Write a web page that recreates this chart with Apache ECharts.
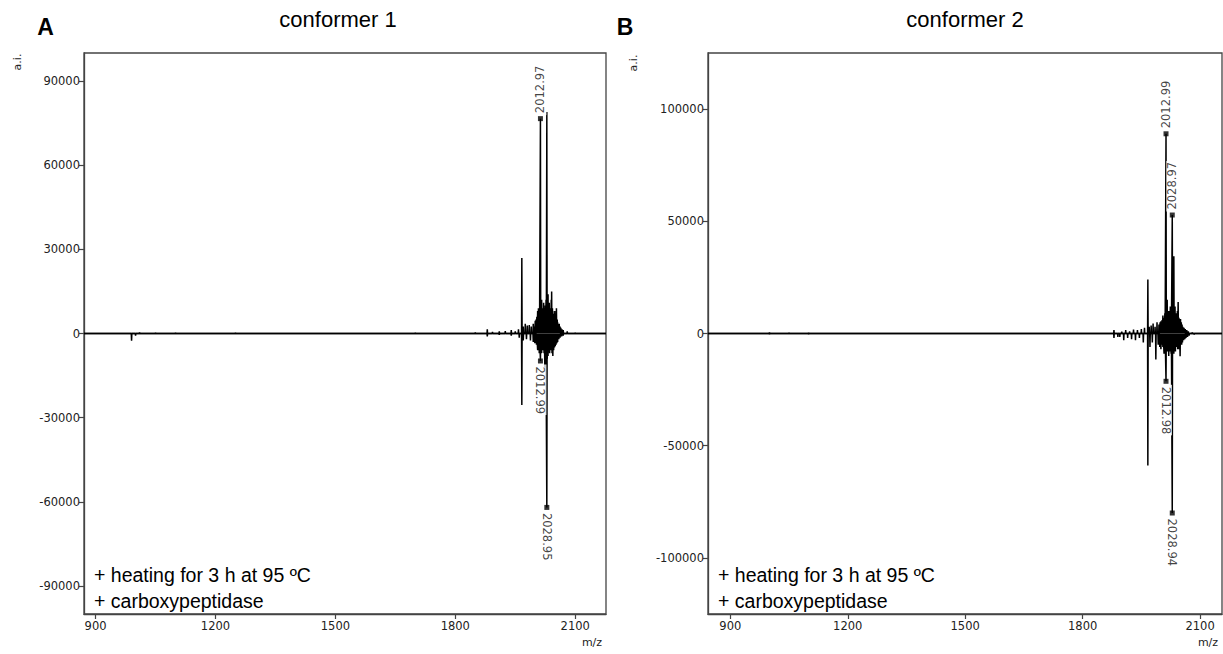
<!DOCTYPE html>
<html>
<head>
<meta charset="utf-8">
<script src="https://cdn.jsdelivr.net/npm/echarts@6/dist/echarts.min.js"></script>
<style>
html,body{margin:0;padding:0;background:#fff;}
#chart{width:1223px;height:654px;}
</style>
</head>
<body>
<div id="chart"></div>
<script>
// ---- data (m/z, intensity a.i.) ----
const xTicks = [900, 1200, 1500, 1800, 2100];
const yTicksA = [-90000, -60000, -30000, 0, 30000, 60000, 90000];
const yTicksB = [-100000, -50000, 0, 50000, 100000];

// conformer 1, upper spectrum (peaks)
const peaksA_up = [
  [990, -2600], [1000, -800], [1010, 400], [1050, 300], [1100, 300], [1250, 300], [1500, 200], [1700, 300],
  [1850, 400], [1880, 1500], [1893, 600], [1910, 800], [1925, 900], [1940, 1200], [1950, 800],
  [1958, 1500], [1966.4, 26900], [1970, 2500], [1975, 3500], [1980, 2800], [1985, 3000],
  [1990, 2500], [1995, 3500], [1998, 2500], [2000, 4500], [2002, 5000], [2004, 6000], [2006, 8000],
  [2008, 9000], [2010, 7000], [2012.97, 76600], [2014, 9000], [2016, 12000], [2018, 8000],
  [2019, 9000], [2021, 11000], [2022, 7000], [2024, 9000], [2025, 10000], [2027, 12000],
  [2028.95, 79000], [2030, 10000], [2032, 14000], [2034, 9000], [2035, 11000], [2037, 8000],
  [2038, 9000], [2040, 12000], [2041, 15000], [2043, 9000], [2044, 8000], [2046, 7000], [2047, 6000],
  [2049, 8000], [2050, 7000], [2052, 6000], [2053, 9000], [2055, 5000], [2056, 4000], [2058, 3000],
  [2060, 3500], [2062, 2500], [2064, 2000], [2067, 1500], [2070, 1200], [2080, 800], [2100, 300]
];
// conformer 1, lower (mirrored) spectrum
const peaksA_down = [
  [1880, -1000], [1910, -500], [1940, -800], [1960, -1500], [1966.4, -25500], [1970, -2500],
  [1978, -2000], [1988, -2500], [1995, -3000], [1999, -3500], [2003, -4000], [2006, -6000],
  [2008, -5000], [2010, -7000], [2012.99, -9800], [2014, -6000], [2016, -7000], [2018, -5000],
  [2020, -6000], [2022, -7000], [2024, -12000], [2026, -8000], [2028.95, -62000], [2030, -9000],
  [2032, -8000], [2034, -6000], [2036, -7000], [2038, -5000], [2040, -6000], [2042, -7000],
  [2044, -8000], [2046, -6000], [2048, -5000], [2050, -4500], [2052, -4000], [2054, -3500],
  [2056, -3000], [2059, -2000], [2062, -1500], [2066, -1000], [2070, -800]
];
// conformer 2, upper spectrum
const peaksB_up = [
  [1000, 500], [1050, 400], [1100, -300], [1200, 200], [1880, 1500], [1890, -1500], [1900, 800],
  [1910, 1500], [1920, 1000], [1930, 1800], [1940, 1500], [1950, 2000], [1958, 2500],
  [1966.6, 24100], [1970, 3000], [1975, 3500], [1980, 4500], [1985, 3000], [1990, 5000],
  [1995, 4000], [1998, 5000], [2000, 5500], [2003, 6000], [2005, 8000], [2008, 7000], [2010, 9000],
  [2012.99, 89000], [2014, 10000], [2016, 15000], [2018, 9000], [2020, 10000], [2022, 8000],
  [2024, 12000], [2026, 9000], [2028.97, 52800], [2030, 11000], [2033, 34400], [2034, 10000],
  [2036, 12000], [2038, 8000], [2040, 9000], [2042, 10000], [2044, 14000], [2046, 7000],
  [2048, 6000], [2050, 6500], [2052, 5000], [2054, 4000], [2056, 3000], [2059, 2500],
  [2062, 2000], [2066, 1500], [2070, 1000], [2080, 500]
];
// conformer 2, lower (mirrored) spectrum
const peaksB_down = [
  [1000, -400], [1100, 300], [1880, -2000], [1895, -1500], [1905, -3000], [1915, -2000],
  [1925, -2500], [1935, -3000], [1945, -2000], [1955, -4000], [1966.6, -58800], [1972, -6000],
  [1978, -4000], [1987, -11600], [1993, -5000], [1997, -6000], [2000, -7000], [2003, -5000],
  [2005, -6000], [2008, -9000], [2010, -7000], [2012.98, -21300], [2014, -7000], [2016, -8000],
  [2018, -6000], [2020, -10000], [2022, -8000], [2024, -7000], [2026, -9000], [2028.94, -80000],
  [2030, -8000], [2033, -9000], [2035, -7000], [2037, -8000], [2039, -6000], [2041, -6000],
  [2043, -7000], [2045, -7000], [2047, -6000], [2049, -10100], [2051, -5000], [2053, -5000],
  [2055, -4000], [2058, -3000], [2061, -2500], [2064, -2000], [2068, -1500], [2072, -1000], [2085, -500]
];

// labelled peaks
const markA_up = [[2012.97, 76600]];
const markA_down = [[2012.99, -9800], [2028.95, -62000]];
const markB_up = [[2012.99, 89000], [2028.97, 52800]];
const markB_down = [[2012.98, -21300], [2028.94, -80000]];

const xRangeA = [871, 2177];
const xRangeB = [843, 2156];

function toLine(peaks, range) {
  const pts = [[range[0], 0]];
  peaks.forEach(function (p) {
    pts.push([p[0] - 0.7, 0], [p[0], p[1]], [p[0] + 0.7, 0]);
  });
  pts.push([range[1], 0]);
  return pts;
}

const axisFont = { fontFamily: 'DejaVu Sans', fontSize: 11.5, color: '#222' };
function xAxis(idx, range) {
  return {
    type: 'value', gridIndex: idx, min: range[0], max: range[1],
    axisLine: { onZero: false, lineStyle: { color: '#444', width: 1.3 } },
    axisTick: { show: true, length: 5, customValues: xTicks, lineStyle: { color: '#444', width: 1.2 } },
    axisLabel: Object.assign({ customValues: xTicks, margin: 6, formatter: function (v) { return String(v); } }, axisFont),
    splitLine: { show: false }
  };
}
function yAxis(idx, lim, ticks) {
  return {
    type: 'value', gridIndex: idx, min: -lim, max: lim,
    axisLine: { show: true, lineStyle: { color: '#444', width: 1.3 } },
    axisTick: { show: true, length: 5, customValues: ticks, lineStyle: { color: '#444', width: 1.2 } },
    axisLabel: Object.assign({ customValues: ticks, margin: 4, formatter: function (v) { return String(v); } }, axisFont),
    splitLine: { show: false }
  };
}
function lineSeries(idx, data) {
  return {
    type: 'line', xAxisIndex: idx, yAxisIndex: idx, data: data, showSymbol: false,
    lineStyle: { color: '#000', width: 1.5 }, silent: true, clip: true, z: 2
  };
}
function markSeries(idx, data, up) {
  return {
    type: 'scatter', xAxisIndex: idx, yAxisIndex: idx, data: data,
    symbol: 'rect', symbolSize: 5, itemStyle: { color: '#000' }, z: 5,
    label: {
      show: true, position: up ? 'top' : 'bottom', rotate: up ? 90 : -90,
      align: 'left', verticalAlign: 'middle', distance: 1,
      formatter: function (p) { return p.value[0].toFixed(2); },
      fontFamily: 'DejaVu Sans', fontSize: 11.5, color: '#111',
      backgroundColor: '#fff', padding: [0, 1, 0, 2]
    }
  };
}

const chart = echarts.init(document.getElementById('chart'), null, { renderer: 'svg' });
chart.setOption({
  animation: false,
  backgroundColor: '#fff',
  grid: [
    { left: 84, top: 53, width: 522, height: 561, show: true, borderColor: '#444', borderWidth: 1.3, backgroundColor: 'transparent' },
    { left: 708, top: 53, width: 514, height: 561, show: true, borderColor: '#444', borderWidth: 1.3, backgroundColor: 'transparent' }
  ],
  xAxis: [xAxis(0, xRangeA), xAxis(1, xRangeB)],
  yAxis: [yAxis(0, 100000, yTicksA), yAxis(1, 125000, yTicksB)],
  series: [
    lineSeries(0, toLine(peaksA_up, xRangeA)),
    lineSeries(0, toLine(peaksA_down, xRangeA)),
    lineSeries(1, toLine(peaksB_up, xRangeB)),
    lineSeries(1, toLine(peaksB_down, xRangeB)),
    markSeries(0, markA_up, true),
    markSeries(0, markA_down, false),
    markSeries(1, markB_up, true),
    markSeries(1, markB_down, false)
  ],
  graphic: [
    { type: 'text', x: 338, y: 19, style: { text: 'conformer 1', font: '22px "Liberation Sans", Arial, sans-serif', fill: '#000', textAlign: 'center', textVerticalAlign: 'middle' } },
    { type: 'text', x: 965, y: 19, style: { text: 'conformer 2', font: '22px "Liberation Sans", Arial, sans-serif', fill: '#000', textAlign: 'center', textVerticalAlign: 'middle' } },
    { type: 'text', x: 45.5, y: 27, style: { text: 'A', font: 'bold 23px "Liberation Sans", Arial, sans-serif', fill: '#000', textAlign: 'center', textVerticalAlign: 'middle' } },
    { type: 'text', x: 625, y: 27, style: { text: 'B', font: 'bold 23px "Liberation Sans", Arial, sans-serif', fill: '#000', textAlign: 'center', textVerticalAlign: 'middle' } },
    { type: 'text', x: 17, y: 62, rotation: Math.PI / 2, style: { text: 'a.i.', font: '11px "DejaVu Sans", sans-serif', fill: '#222', textAlign: 'center', textVerticalAlign: 'middle' } },
    { type: 'text', x: 633, y: 63, rotation: Math.PI / 2, style: { text: 'a.i.', font: '11px "DejaVu Sans", sans-serif', fill: '#222', textAlign: 'center', textVerticalAlign: 'middle' } },
    { type: 'text', x: 592, y: 642, style: { text: 'm/z', font: '11px "DejaVu Sans", sans-serif', fill: '#222', textAlign: 'center', textVerticalAlign: 'middle' } },
    { type: 'text', x: 1208, y: 642, style: { text: 'm/z', font: '11px "DejaVu Sans", sans-serif', fill: '#222', textAlign: 'center', textVerticalAlign: 'middle' } },
    { type: 'text', x: 94, y: 575, style: { text: '+ heating for 3 h at 95 ºC', font: '19.5px "Liberation Sans", Arial, sans-serif', fill: '#000', textAlign: 'left', textVerticalAlign: 'middle' } },
    { type: 'text', x: 94, y: 601, style: { text: '+ carboxypeptidase', font: '19.5px "Liberation Sans", Arial, sans-serif', fill: '#000', textAlign: 'left', textVerticalAlign: 'middle' } },
    { type: 'text', x: 718, y: 575, style: { text: '+ heating for 3 h at 95 ºC', font: '19.5px "Liberation Sans", Arial, sans-serif', fill: '#000', textAlign: 'left', textVerticalAlign: 'middle' } },
    { type: 'text', x: 718, y: 601, style: { text: '+ carboxypeptidase', font: '19.5px "Liberation Sans", Arial, sans-serif', fill: '#000', textAlign: 'left', textVerticalAlign: 'middle' } }
  ]
});
</script>
</body>
</html>
